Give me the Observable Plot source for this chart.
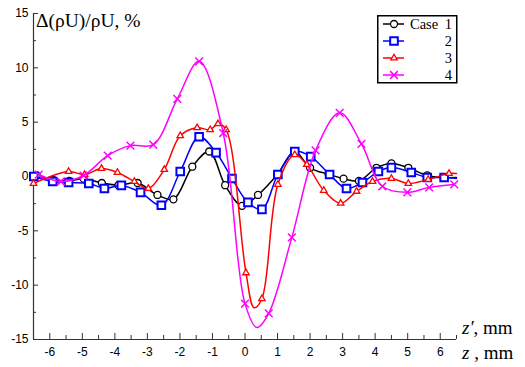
<!DOCTYPE html>
<html><head><meta charset="utf-8">
<script src="https://cdn.jsdelivr.net/npm/d3@7"></script>
<script src="https://cdn.jsdelivr.net/npm/@observablehq/plot@0.6"></script>
<style>
body{margin:0;background:#fff;}
#wrap{position:relative;width:525px;height:367px;overflow:hidden;}
.t{position:absolute;font-family:"Liberation Serif","Times New Roman",serif !important;color:#000;white-space:nowrap;line-height:1;}
</style></head><body>
<div id="wrap"></div>
<script>
// ---- data ----
const caseNames = ["Case 1", "2", "3", "4"];
const colors = ["#000000", "#0000ff", "#ff0000", "#ff00ff"];
const symbols = ["circle", "square", "triangle", "times"];

const z1 = [-6.4,-5.9,-5.4,-4.96,-4.4,-3.89,-3.3,-2.69,-2.2,-1.62,-1.1,-0.61,-0.09,0.4,1.0,1.53,2.0,2.57,3.03,3.5,4.04,4.5,5.02,5.6,6.1,6.5];
const v1 = [0.1,-0.3,-0.4,-0.2,-0.6,-0.8,-0.6,-1.7,-2.1,0.9,2.3,-0.8,-2.7,-1.7,0.2,2.3,0.8,0.2,-0.2,-0.4,0.8,1.2,0.8,0.1,-0.1,-0.1];
const m1 = [1,1,1,1,1,1,1,1,1,1,1,1,1,1,1,1,1,1,1,1,1,1,1,1,1,0];

const z2 = [-6.49,-5.91,-5.42,-4.8,-4.32,-3.8,-3.21,-2.57,-1.99,-1.41,-0.89,-0.4,0.09,0.52,1.01,1.53,2.02,2.6,3.12,3.61,4.1,4.5,5.11,5.6,6.12,6.5];
const v2 = [0,-0.46,-0.55,-0.64,-1.1,-0.82,-1.46,-2.65,0.46,3.66,2.2,-0.18,-2.38,-3.02,0.18,2.29,1.83,0.18,-1.1,-0.55,0.46,0.82,0.37,-0.09,-0.09,-0.18];
const m2 = [1,1,1,1,1,1,1,1,1,1,1,1,1,1,1,1,1,1,1,1,1,1,1,1,1,0];

const z3 = [-6.5,-5.42,-4.93,-4.41,-3.92,-3.4,-2.97,-2.48,-1.99,-1.47,-1.07,-0.83,-0.58,0.03,0.28,0.52,1.01,1.53,1.9,2.42,2.94,3.43,3.92,4.5,5.02,5.63,6.27,6.5];
const v3 = [-0.64,0.46,0.18,0.73,0.37,-0.46,-1.1,0.64,3.75,4.48,4.3,4.85,4.3,-8.87,-12.08,-11.25,-0.73,2.0,1.1,-1.28,-2.47,-1.37,-0.46,-0.18,-0.64,-0.27,0.27,0.27];
const m3 = [1,1,1,1,1,1,1,1,1,1,1,1,1,1,0,1,1,1,1,1,1,1,1,1,1,1,1,0];

const z4 = [-6.34,-5.66,-4.96,-4.22,-3.52,-2.82,-2.08,-1.41,-0.67,0,0.37,0.73,1.44,2.17,2.91,3.58,4.22,4.99,5.66,6.43];
const v4 = [0.18,-0.46,0.09,1.92,2.84,2.93,7.14,10.6,4.0,-11.7,-13.9,-12.6,-5.6,2.4,5.86,3.0,-0.9,-1.46,-1.0,-0.73];
const m4 = [1,1,1,1,1,1,1,1,1,1,0,1,1,1,1,1,1,1,1,1];

const xTicks = [-6,-5,-4,-3,-2,-1,0,1,2,3,4,5,6];
const xMinor = [-6.5,-5.5,-4.5,-3.5,-2.5,-1.5,-0.5,0.5,1.5,2.5,3.5,4.5,5.5,6.5];
const yTicks = [-15,-10,-5,0,5,10,15];
const yMinor = [-12.5,-7.5,-2.5,2.5,7.5,12.5];

const series = [[z1,v1,m1],[z2,v2,m2],[z3,v3,m3],[z4,v4,m4]].map(([z,v,m],k) =>
  z.map((zz,i) => ({z: zz, v: v[i], m: m[i], k})));

const symR = [3.5, 4.3, 2.4, 3.6];
const symW = [1.3, 2, 1.3, 1.5];

const marks = [
  Plot.ruleY([-15], {stroke: "#333", strokeWidth: 1.2}),
  Plot.ruleX([-6.5], {stroke: "#333", strokeWidth: 1.2}),
  Plot.axisX({ticks: xTicks, tickSize: 6, dy: -6, fill: "none", stroke: "#333", label: null}),
  Plot.axisX({ticks: xMinor, tickSize: 4, dy: -4, fill: "none", stroke: "#333", label: null}),
  Plot.axisX({ticks: xTicks, tickSize: 0, tickPadding: 8, tickFormat: d => String(d), fontSize: 12, fill: "#000", label: null}),
  Plot.axisY({ticks: yTicks, tickSize: 5, dx: 5, fill: "none", stroke: "#333", label: null}),
  Plot.axisY({ticks: yMinor, tickSize: 3, dx: 3, fill: "none", stroke: "#333", label: null}),
  Plot.axisY({ticks: yTicks, tickSize: 0, tickPadding: 5, tickFormat: d => String(d), fontSize: 12, fill: "#000", label: null})
];
series.forEach((data, k) => {
  marks.push(Plot.line(data, {x: "z", y: "v", stroke: colors[k], strokeWidth: 1.5, curve: "catmull-rom"}));
  marks.push(Plot.dot(data.filter(d => d.m), {x: "z", y: "v", symbol: symbols[k], r: symR[k], stroke: colors[k], strokeWidth: symW[k], fill: k === 3 ? "none" : "white"}));
});

const chart = Plot.plot({
  width: 525, height: 367,
  marginLeft: 33, marginRight: 69, marginTop: 13, marginBottom: 28,
  style: {fontFamily: "'Liberation Sans', Arial, sans-serif", background: "white", color: "#000"},
  x: {domain: [-6.5, 6.5]},
  y: {domain: [-15, 15]},
  marks
});
const wrap = document.getElementById("wrap");
wrap.appendChild(chart);

function addText(html, left, top, size) {
  const d = document.createElement("div");
  d.className = "t";
  d.style.left = left + "px"; d.style.top = top + "px"; d.style.fontSize = size + "px";
  d.style.fontFamily = "'Liberation Serif', 'DejaVu Serif', serif";
  d.innerHTML = html;
  wrap.appendChild(d);
}
addText("Δ(ρU)/ρU, %", 36, 11, 19.5);
addText("<i>z′</i>, mm", 462, 318, 19);
addText("<i>z</i> , mm", 462, 343, 19);

// legend
const lg = d3.select(wrap).append("svg")
  .style("position", "absolute").style("left", "377px").style("top", "15px")
  .attr("width", 81).attr("height", 69);
lg.append("rect").attr("x", 0.75).attr("y", 0.75).attr("width", 79).attr("height", 67)
  .attr("fill", "white").attr("stroke", "#000").attr("stroke-width", 1.5);
const d3sym = {circle: d3.symbolCircle, square: d3.symbolSquare, triangle: d3.symbolTriangle, times: d3.symbolTimes};
caseNames.forEach((name, k) => {
  const y = 9 + k * 17;
  lg.append("line").attr("x1", 6).attr("x2", 27).attr("y1", y).attr("y2", y)
    .attr("stroke", colors[k]).attr("stroke-width", 1.5);
  lg.append("path").attr("transform", `translate(17,${y})`)
    .attr("d", d3.symbol(d3sym[symbols[k]], Math.PI * symR[k] * symR[k])())
    .attr("fill", k === 3 ? "none" : "white").attr("stroke", colors[k]).attr("stroke-width", symW[k]);
  const parts = name.split(" ");
  if (parts.length > 1) {
    lg.append("text").attr("x", 33).attr("y", y + 5).attr("font-family", "'Liberation Serif', serif")
      .attr("font-size", 14.5).text(parts[0]);
  }
  lg.append("text").attr("x", 75).attr("y", y + 5).attr("text-anchor", "end")
    .attr("font-family", "'Liberation Serif', serif").attr("font-size", 14.5).text(parts[parts.length - 1]);
});
</script>
</body></html>
